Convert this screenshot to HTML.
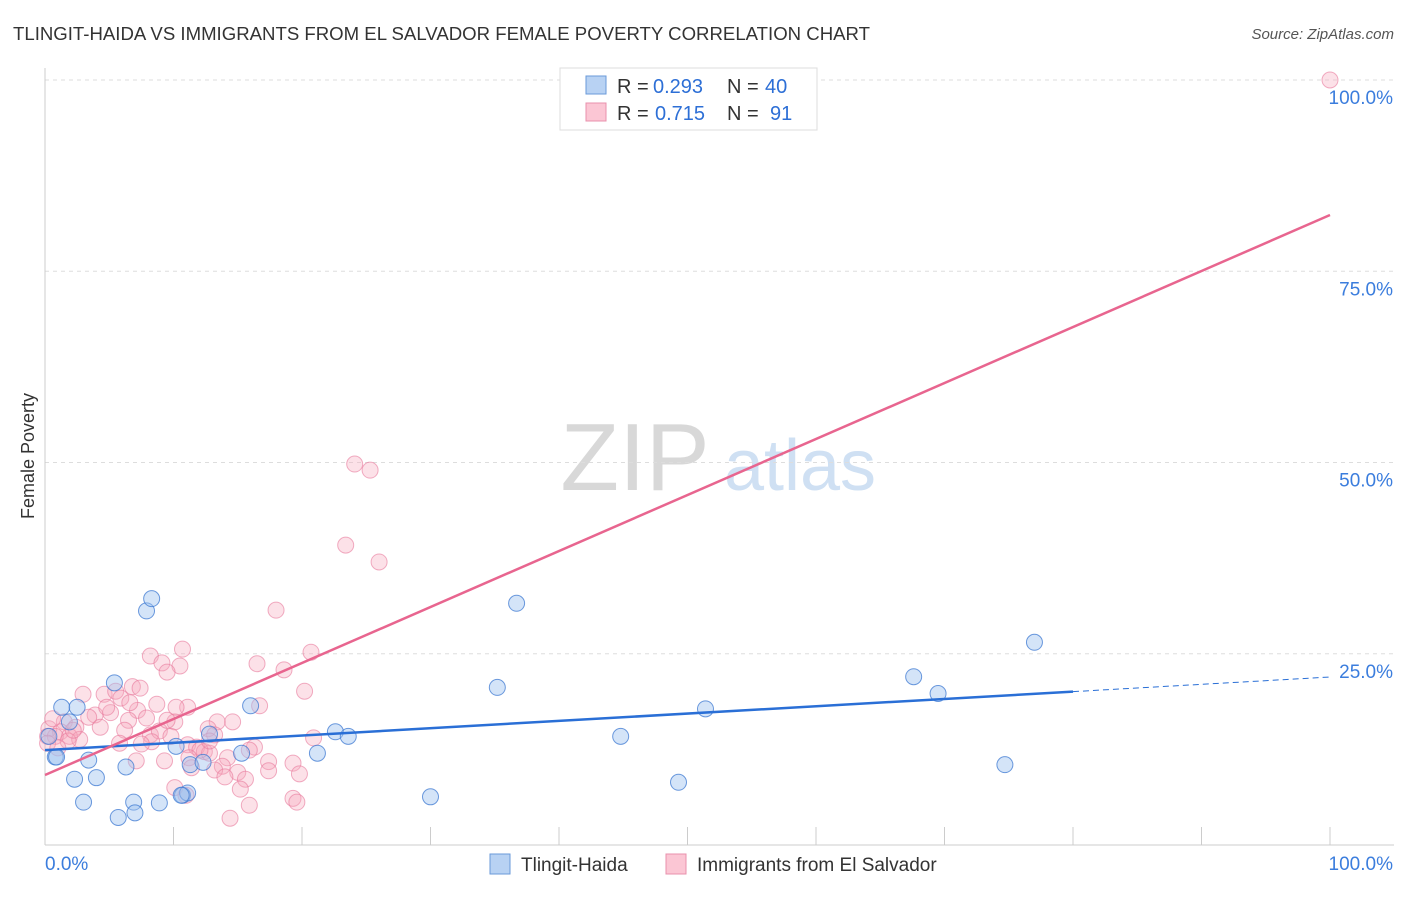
<!DOCTYPE html>
<html><head><meta charset="utf-8"><style>
body{margin:0;background:#fff;font-family:"Liberation Sans",sans-serif;}
svg text{font-family:"Liberation Sans",sans-serif;}
</style></head><body>
<svg id="chart" width="1406" height="892">
<text x="13" y="40" font-size="18" fill="#333" textLength="857" lengthAdjust="spacingAndGlyphs">TLINGIT-HAIDA VS IMMIGRANTS FROM EL SALVADOR FEMALE POVERTY CORRELATION CHART</text>
<text x="1394" y="39" font-size="15" fill="#555" font-style="italic" text-anchor="end">Source: ZipAtlas.com</text>
<text x="34" y="456" font-size="18" fill="#333" text-anchor="middle" transform="rotate(-90 34 456)">Female Poverty</text>
<g>
<text x="635" y="490" font-size="96" fill="#d8d8d8" font-family="Liberation Serif,serif" text-anchor="middle">ZIP</text>
<text x="800" y="490" font-size="72" fill="#cfe0f3" text-anchor="middle">atlas</text>
</g>
<g id="grid"></g>
<g id="axes"></g>
<g id="marks"></g>
<g font-size="20">
<rect x="560" y="68" width="257" height="62" fill="#fff" stroke="#ddd"/>
<rect x="586" y="76" width="20" height="18" fill="#b8d2f3" stroke="#6a9ad8"/>
<rect x="586" y="103" width="20" height="18" fill="#fbc6d4" stroke="#e890ac"/>
<text x="617" y="93" fill="#333">R =</text>
<text x="653" y="93" fill="#2d6fd6">0.293</text>
<text x="727" y="93" fill="#333">N =</text>
<text x="765" y="93" fill="#2d6fd6">40</text>
<text x="617" y="120" fill="#333">R =</text>
<text x="655" y="120" fill="#2d6fd6">0.715</text>
<text x="727" y="120" fill="#333">N =</text>
<text x="770" y="120" fill="#2d6fd6">91</text>
</g>
<g>
<rect x="490" y="854" width="20" height="20" fill="#b8d2f3" stroke="#6a9ad8"/>
<text x="521" y="871" font-size="19" fill="#333">Tlingit-Haida</text>
<rect x="666" y="854" width="20" height="20" fill="#fbc6d4" stroke="#e890ac"/>
<text x="697" y="871" font-size="19" fill="#333">Immigrants from El Salvador</text>
</g>
</svg>
<script>
const yTicks=[25,50,75,100];
const yTickLabels=["25.0%","50.0%","75.0%","100.0%"];
const xEndLabels=["0.0%","100.0%"];
const blueX=[0.8,1.3,2.5,1.9,3.4,2.3,3.0,4.0,5.4,6.3,7.9,8.3,5.7,6.9,7.0,8.9,10.2,10.7,11.1,11.3,12.3,12.8,15.3,16.0,21.2,22.6,23.6,30.0,35.2,36.7,44.8,49.3,51.4,67.6,69.5,74.7,77.0,0.3,0.9,10.6];
const blueY=[11.5,18.0,18.0,16.1,11.1,8.6,5.6,8.8,21.2,10.2,30.6,32.2,3.6,5.6,4.2,5.5,12.9,6.5,6.8,10.5,10.8,14.5,12.0,18.2,12.0,14.8,14.2,6.3,20.6,31.6,14.2,8.2,17.8,22.0,19.8,10.5,26.5,14.2,11.5,6.5];
const pinkX=[100,24.1,25.3,23.4,26.0,17.98,20.7,10.7,8.2,9.1,10.5,9.5,16.5,18.6,20.2,2.96,4.6,6.8,7.4,5.5,5.9,8.7,11.1,16.7,7.2,5.1,3.9,3.4,6.5,7.9,10.1,14.6,13.4,1.5,2.4,0.3,1.2,1.9,0.8,0.2,2.7,4.3,6.2,8.2,8.9,9.8,8.3,5.8,7.5,12.7,13.2,11.1,11.8,12.4,12.8,12.06,11.2,14.2,7.1,9.3,17.4,19.3,11.4,13.8,16.3,15.9,15.0,13.2,17.4,19.8,15.6,14.0,10.1,10.97,19.3,19.6,15.9,14.4,20.9,0.6,1.8,0.2,2.2,1.0,4.8,6.6,9.5,15.2,12.8,10.2];
const pinkY=[100,49.8,49.0,39.2,37.0,30.7,25.2,25.6,24.7,23.8,23.4,22.6,23.7,22.9,20.1,19.7,19.7,20.7,20.5,20.1,19.2,18.4,18.0,18.2,17.6,17.3,17.0,16.7,16.3,16.6,16.1,16.1,16.1,16.1,15.4,15.2,14.8,14.2,14.2,14.2,13.8,15.4,15.0,14.4,14.9,14.2,13.5,13.3,13.2,15.2,14.4,13.1,12.8,12.2,12.0,12.4,11.4,11.4,11.0,11.0,10.9,10.7,10.1,10.3,12.8,12.4,9.5,9.8,9.7,9.3,8.6,8.9,7.5,6.5,6.1,5.6,5.2,3.5,14.0,16.5,13.6,13.3,15.0,12.7,18.0,18.6,16.3,7.3,13.6,18.0];
const blueLine=[12.4,21.96];
const pinkLine=[9.15,82.35];
const NS="http://www.w3.org/2000/svg";
const X=v=>45+v/100*1285, Y=v=>845-v/100*765;
function mk(t,a,p){const e=document.createElementNS(NS,t);for(const k in a)e.setAttribute(k,a[k]);p.appendChild(e);return e;}
const grid=document.getElementById('grid'),axes=document.getElementById('axes'),marks=document.getElementById('marks');
yTicks.forEach((t,i)=>{
 const l=mk('line',{x1:45,x2:1394,y1:Y(t),y2:Y(t),stroke:'#ddd','stroke-dasharray':'4,4'},grid);
 
 
 const tx=mk('text',{x:1393,y:Y(t)+24,'font-size':19,fill:'#3b7ddd','text-anchor':'end'},axes);
 tx.textContent=yTickLabels[i];
 
 
});
const ax=mk('line',{x1:45,x2:45,y1:68,y2:845,stroke:'#ccc'},axes);


const bx=mk('line',{x1:45,x2:1394,y1:845,y2:845,stroke:'#ccc'},axes);


for(let i=1;i<=10;i++){const t=mk('line',{x1:X(i*10),x2:X(i*10),y1:827,y2:845,stroke:'#ccc'},axes);
 
 }
[[0,'start',45],[100,'end',1393]].forEach((d,i)=>{const t=mk('text',{x:d[2],y:870,'font-size':19,fill:'#3b7ddd','text-anchor':d[1]},axes);t.textContent=xEndLabels[i];
 
 });
pinkX.forEach((x,i)=>{const c=mk('circle',{cx:X(x),cy:Y(pinkY[i]),r:8,fill:'rgba(246,168,190,0.35)',stroke:'rgba(232,120,155,0.6)','stroke-width':1},marks);
 
 });
blueX.forEach((x,i)=>{const c=mk('circle',{cx:X(x),cy:Y(blueY[i]),r:8,fill:'rgba(160,196,240,0.45)',stroke:'rgba(60,120,210,0.75)','stroke-width':1},marks);
 
 });
const bAt=v=>blueLine[0]+(blueLine[1]-blueLine[0])*v/100;
const b1=mk('line',{x1:X(0),y1:Y(bAt(0)),x2:X(80),y2:Y(bAt(80)),stroke:'#2a6fd6','stroke-width':2.5},marks);


const b2=mk('line',{x1:X(80),y1:Y(bAt(80)),x2:X(100),y2:Y(bAt(100)),stroke:'#2a6fd6','stroke-width':1,'stroke-dasharray':'6,4'},marks);


const p1=mk('line',{x1:X(0),y1:Y(pinkLine[0]),x2:X(100),y2:Y(pinkLine[1]),stroke:'#e8658f','stroke-width':2.5},marks);


</script>
</body></html>
